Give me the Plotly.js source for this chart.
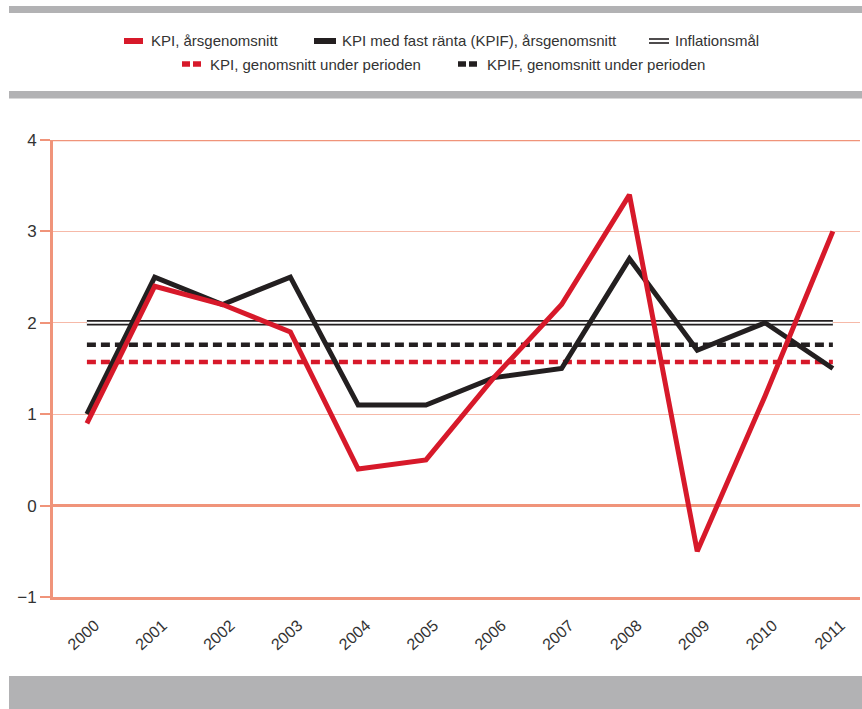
<!DOCTYPE html>
<html>
<head>
<meta charset="utf-8">
<script src="https://cdn.plot.ly/plotly-3.0.1.min.js"></script>
<style>html,body{margin:0;padding:0;background:#fff;}#chart{width:862px;height:709px;}</style>
</head>
<body>
<div id="chart"></div>
<script>
const years = [2000,2001,2002,2003,2004,2005,2006,2007,2008,2009,2010,2011];
const kpi  = [0.9,2.4,2.2,1.9,0.4,0.5,1.4,2.2,3.4,-0.5,1.2,3.0];
const kpif = [1.0,2.5,2.2,2.5,1.1,1.1,1.4,1.5,2.7,1.7,2.0,1.5];
const kpiAvg = 1.57;
const kpifAvg = 1.76;
const target = 2;
const legendNames = ["KPI, årsgenomsnitt","KPI med fast ränta (KPIF), årsgenomsnitt","Inflationsmål","KPI, genomsnitt under perioden","KPIF, genomsnitt under perioden"];
const yTicks = [-1,0,1,2,3,4];

const RED = "#d7192a", BLACK = "#231f20", SAL = "#f0947a", SAL_L = "#f6b9a8", GRAY = "#b2b2b4";
const FONT = "Liberation Sans, Arial, sans-serif";

const W = 862, H = 709, L = 53, R = 2, T = 140, B = 112;
const pw = W - L - R, ph = H - T - B;
const px = x => (x - L) / pw;
const py = y => (H - B - y) / ph;

const flat = v => years.map(() => v);

const traces = [
  {x: years, y: flat(kpifAvg), mode: "lines", line: {color: BLACK, width: 4.5, dash: "9px,5px"}, hoverinfo: "skip", name: legendNames[4]},
  {x: years, y: flat(kpiAvg), mode: "lines", line: {color: RED, width: 4.5, dash: "9px,5px"}, hoverinfo: "skip", name: legendNames[3]},
  {x: years, y: flat(target), mode: "lines", line: {color: BLACK, width: 5.5}, hoverinfo: "skip", name: legendNames[2]},
  {x: years, y: flat(target), mode: "lines", line: {color: "#ffffff", width: 2}, hoverinfo: "skip", showlegend: false},
  {x: years, y: kpif, mode: "lines", line: {color: BLACK, width: 5}, name: legendNames[1]},
  {x: years, y: kpi, mode: "lines", line: {color: RED, width: 5}, name: legendNames[0]}
];

const shapes = [];
const annotations = [];
function band(x0, x1, y0, y1) {
  shapes.push({type: "rect", xref: "paper", yref: "paper", x0: px(x0), x1: px(x1), y0: py(y1), y1: py(y0), fillcolor: GRAY, line: {width: 0}, layer: "above"});
}
band(9, 862, 6, 13);
band(9, 862, 91, 98.5);
band(9, 862, 676, 709);

function seg(x0, x1, y, color, width) {
  shapes.push({type: "line", xref: "paper", yref: "paper", x0: px(x0), x1: px(x1), y0: py(y), y1: py(y), line: {color: color, width: width}});
}
function label(x, y, text) {
  annotations.push({xref: "paper", yref: "paper", x: px(x), y: py(y), xanchor: "left", yanchor: "middle", text: text, showarrow: false, borderpad: 0, font: {family: FONT, size: 15, color: "#333333"}});
}
// row 1
seg(124, 143, 41, RED, 6); label(150, 41, legendNames[0]);
seg(314, 336, 41, BLACK, 6); label(341, 41, legendNames[1]);
seg(649, 669, 39, BLACK, 1.6); seg(649, 669, 43, BLACK, 1.6); label(674, 41, legendNames[2]);
// row 2
seg(182, 190, 64, RED, 5.5); seg(193, 201, 64, RED, 5.5); label(209, 64, legendNames[3]);
seg(458, 466, 64, BLACK, 5.5); seg(469, 477, 64, BLACK, 5.5); label(486, 64, legendNames[4]);

// top line at y = 4
shapes.push({type: "line", xref: "paper", yref: "y", x0: 0, x1: 1, y0: 4, y1: 4, line: {color: SAL, width: 2.5}, layer: "below"});

const layout = {
  width: W, height: H,
  margin: {l: L, r: R, t: T, b: B},
  paper_bgcolor: "#ffffff", plot_bgcolor: "#ffffff",
  showlegend: false,
  xaxis: {
    range: [1999.5, 2011.4], tickvals: years, ticktext: years.map(String),
    tickangle: -42, showgrid: false, zeroline: false,
    showline: true, linecolor: SAL, linewidth: 3, ticks: "",
    ticklabelstandoff: 10, ticklabelshift: 8,
    tickfont: {family: FONT, size: 16, color: "#333333"}
  },
  yaxis: {
    range: [-1, 4], tickvals: yTicks, showgrid: true, gridcolor: SAL_L, gridwidth: 1,
    zeroline: true, zerolinecolor: SAL, zerolinewidth: 2.5,
    showline: true, linecolor: SAL, linewidth: 3,
    ticks: "outside", ticklen: 10, tickwidth: 2, tickcolor: SAL,
    tickfont: {family: FONT, size: 17, color: "#333333"}
  },
  shapes: shapes,
  annotations: annotations
};

Plotly.newPlot("chart", traces, layout, {displayModeBar: false, staticPlot: true});
</script>
</body>
</html>
